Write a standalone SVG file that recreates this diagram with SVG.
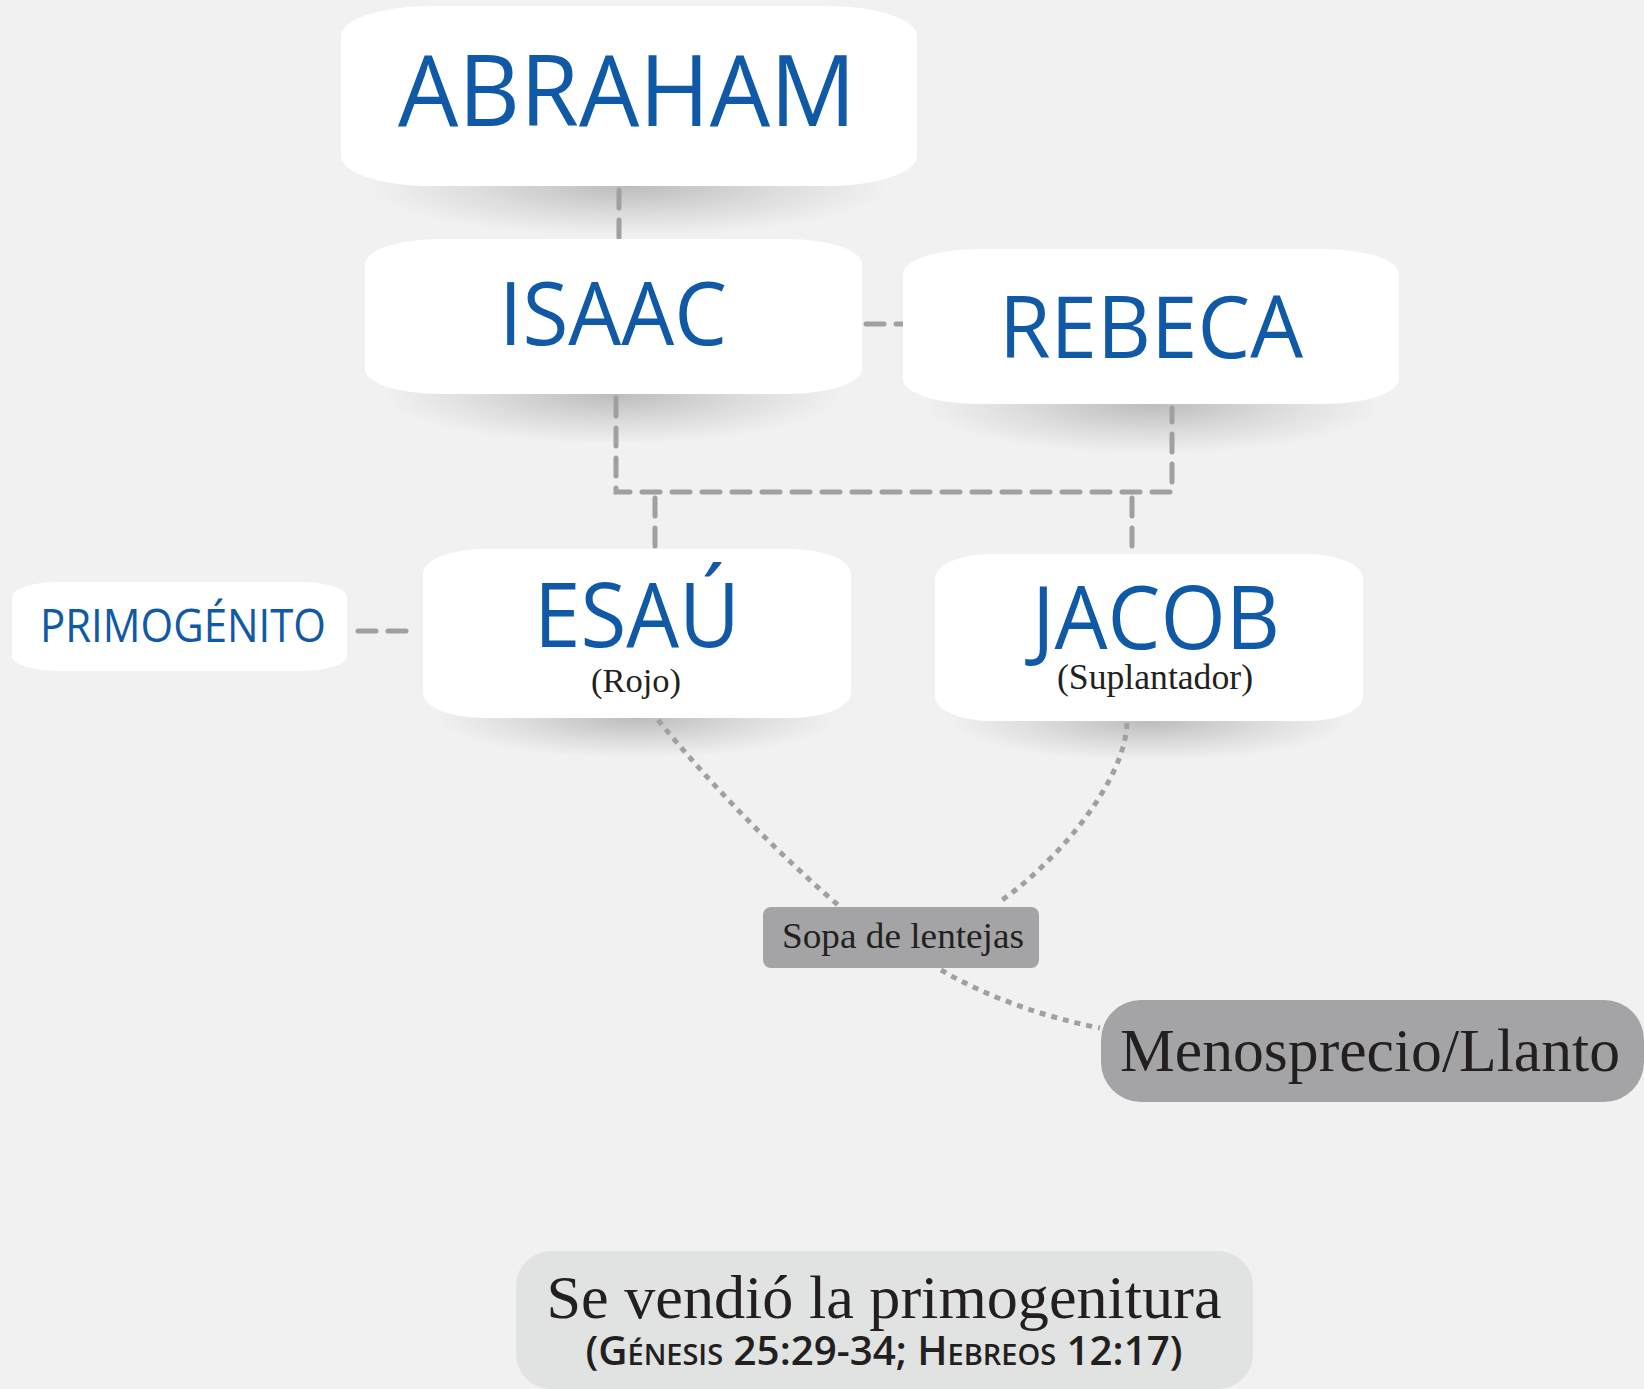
<svg xmlns="http://www.w3.org/2000/svg" width="1644" height="1389" viewBox="0 0 1644 1389">
<style>
.box{fill:#ffffff}
.blue{fill:#1059a6;font-family:"Open Sans","Noto Sans",sans-serif;text-anchor:middle}
.serif{fill:#231f20;font-family:"Liberation Serif","DejaVu Serif",serif;text-anchor:middle}
.sans{fill:#231f20;font-family:"Open Sans","Noto Sans",sans-serif;text-anchor:middle;font-weight:600}
.fam{fill:none;stroke:#a0a0a0;stroke-width:5;stroke-dasharray:18 12;stroke-linecap:round}
.dot{fill:none;stroke:#a0a0a0;stroke-width:5;stroke-dasharray:6 6}
</style>
<defs>
<radialGradient id="sh" cx="0.5" cy="0.5" r="0.5">
<stop offset="0" stop-color="#000" stop-opacity="0.22"/>
<stop offset="0.6" stop-color="#000" stop-opacity="0.08"/>
<stop offset="1" stop-color="#000" stop-opacity="0"/>
</radialGradient>
</defs>
<rect width="1644" height="1389" fill="#f1f1f1"/>
<g id="shadows">
<ellipse cx="629" cy="186" rx="260" ry="50" fill="url(#sh)"/>
<ellipse cx="613" cy="394" rx="230" ry="50" fill="url(#sh)"/>
<ellipse cx="1151" cy="404" rx="230" ry="50" fill="url(#sh)"/>
<ellipse cx="637" cy="718" rx="200" ry="40" fill="url(#sh)"/>
<ellipse cx="1149" cy="721" rx="200" ry="40" fill="url(#sh)"/>
</g>
<g id="connectors">
<line x1="619" y1="190" x2="619" y2="238" class="fam" stroke-width="6" stroke-dasharray="14 10"/>
<line x1="866" y1="324" x2="902" y2="324" class="fam" stroke-dasharray="9 7"/>
<path d="M616,398 V492 H1172 V408" class="fam"/>
<line x1="655" y1="498" x2="655" y2="546" class="fam"/>
<line x1="1132" y1="498" x2="1132" y2="552" class="fam"/>
<line x1="358" y1="631" x2="412" y2="631" class="fam" stroke-dasharray="12 8"/>
<path d="M658,720 Q740,820 838,905" class="dot"/>
<path d="M1127,723 C1125,780 1060,860 998,903" class="dot"/>
<path d="M941,970 Q1010,1010 1100,1028" class="dot"/>
</g>
<g id="abraham">
<rect class="box" x="341" y="6" width="576" height="180" rx="90" ry="30"/>
<text class="blue" x="627" y="126" font-size="98" textLength="458" lengthAdjust="spacingAndGlyphs">ABRAHAM</text>
</g>
<g id="isaac">
<rect class="box" x="365" y="239" width="497" height="155" rx="75" ry="25"/>
<text class="blue" x="613" y="345" font-size="88" textLength="228" lengthAdjust="spacingAndGlyphs">ISAAC</text>
</g>
<g id="rebeca">
<rect class="box" x="903" y="249" width="496" height="155" rx="75" ry="25"/>
<text class="blue" x="1151" y="358" font-size="86" textLength="304" lengthAdjust="spacingAndGlyphs">REBECA</text>
</g>
<g id="primogenito">
<rect class="box" x="12" y="582" width="335" height="89" rx="45" ry="15"/>
<text class="blue" x="183" y="642" font-size="45" textLength="286" lengthAdjust="spacingAndGlyphs">PRIMOGÉNITO</text>
</g>
<g id="esau">
<rect class="box" x="423" y="549" width="428" height="169" rx="60" ry="25"/>
<text class="blue" x="637" y="647" font-size="90" textLength="206" lengthAdjust="spacingAndGlyphs">ESAÚ</text>
<text class="serif" x="636" y="692" font-size="34" textLength="90" lengthAdjust="spacingAndGlyphs">(Rojo)</text>
</g>
<g id="jacob">
<rect class="box" x="935" y="554" width="428" height="167" rx="55" ry="25"/>
<text class="blue" x="1156" y="649" font-size="88" textLength="248" lengthAdjust="spacingAndGlyphs">JACOB</text>
<text class="serif" x="1155" y="689" font-size="35" textLength="196" lengthAdjust="spacingAndGlyphs">(Suplantador)</text>
</g>
<g id="sopa">
<rect x="763" y="907" width="276" height="61" rx="8" fill="#a4a4a6"/>
<text class="serif" x="903" y="948" font-size="36" textLength="242" lengthAdjust="spacingAndGlyphs">Sopa de lentejas</text>
</g>
<g id="menosprecio">
<rect x="1101" y="1000" width="543" height="102" rx="40" fill="#a4a4a6"/>
<text class="serif" x="1370" y="1071" font-size="62" textLength="500" lengthAdjust="spacingAndGlyphs">Menosprecio/Llanto</text>
</g>
<g id="primogenitura">
<rect x="516" y="1251" width="737" height="138" rx="35" fill="#e1e2e2"/>
<text class="serif" x="884" y="1318" font-size="62" textLength="675" lengthAdjust="spacingAndGlyphs">Se vendió la primogenitura</text>
<text class="sans" x="884" y="1365" font-size="39" textLength="597" lengthAdjust="spacingAndGlyphs">(G<tspan font-size="28">ÉNESIS</tspan> 25:29-34; H<tspan font-size="28">EBREOS</tspan> 12:17)</text>
</g>
</svg>
